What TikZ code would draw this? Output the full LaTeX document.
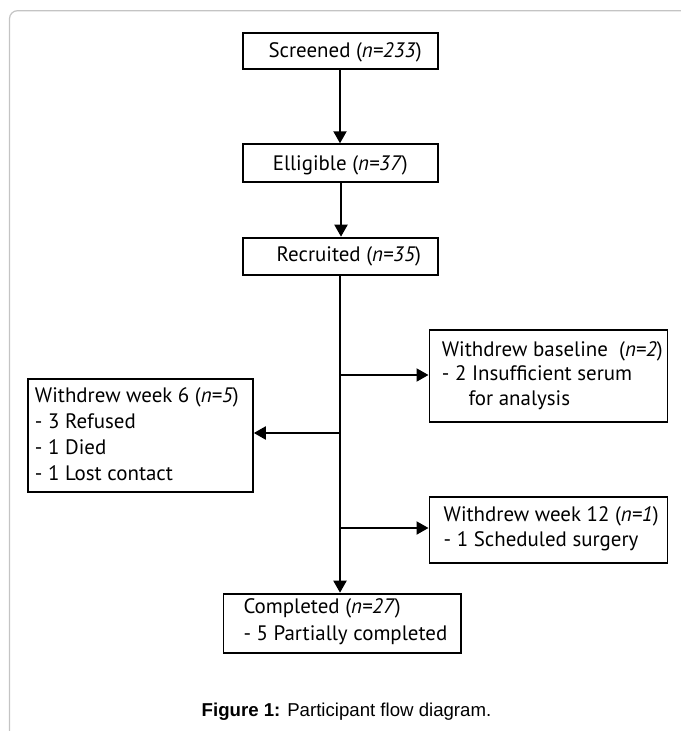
\documentclass[tikz,border=0pt]{standalone}
\usepackage{fontspec}
\setmainfont{PT Sans}
\newfontfamily\capfont{Liberation Sans}
\usetikzlibrary{arrows.meta}
\definecolor{framegray}{RGB}{196,196,196}
\tikzset{
  txt/.style={anchor=base west, inner sep=0pt, font=\fontsize{21}{25}\selectfont},
  flow/.style={line width=2bp, -{Triangle[length=12bp,width=13bp]}},
  boxst/.style={draw, line width=1.8bp, inner sep=0pt, anchor=north west}
}
\begin{document}
\begin{tikzpicture}[x=1bp,y=-1bp]
\useasboundingbox (0,0) rectangle (681,731);
% outer frame
\draw[framegray, line width=1.2bp, rounded corners=8bp] (9.5,740) -- (9.5,10.7) -- (690,10.7);

% boxes
\node[boxst, minimum width=195bp, minimum height=36.5bp] (scr) at (242,31.8) {};
\node[boxst, minimum width=195bp, minimum height=37.4bp] (eli) at (242,143.3) {};
\node[boxst, minimum width=195bp, minimum height=37.3bp] (rec) at (242,236.7) {};
\node[boxst, minimum width=238bp, minimum height=92bp] (base) at (428.5,328.8) {};
\node[boxst, minimum width=225bp, minimum height=113bp] (wk6) at (27,377.7) {};
\node[boxst, minimum width=238bp, minimum height=65.7bp] (wk12) at (428.5,496) {};
\node[boxst, minimum width=237.4bp, minimum height=59.6bp] (comp) at (222.6,592.7) {};

% texts
\node[txt] (tscr) at (268.3,57.3) {Screened (\textit{n=233})};
\node[txt] (teli) at (272.6,170) {Elligible (\textit{n=37})};
\node[txt] (trec) at (276.5,261.7) {Recruited (\textit{n=35})};

\node[txt] (tb1) at (441.7,356) {Withdrew baseline\ \ (\textit{n=2})};
\node[txt] (tb2) at (441.7,380.8) {- 2 Insufficient serum};
\node[txt] (tb3) at (468.3,405.5) {for analysis};

\node[txt] (t61) at (34.8,402.7) {Withdrew week 6 (\textit{n=5})};
\node[txt] (t62) at (34.8,428.3) {- 3 Refused};
\node[txt] (t63) at (34.8,454) {- 1 Died};
\node[txt] (t64) at (34.8,480) {- 1 Lost contact};

\node[txt] (t121) at (443.5,521.7) {Withdrew week 12 (\textit{n=1})};
\node[txt] (t122) at (443.5,546.7) {- 1 Scheduled surgery};

\node[txt] (tc1) at (243.3,613.3) {Completed (\textit{n=27})};
\node[txt] (tc2) at (243.3,640) {- 5 Partially completed};

\node[anchor=base, inner sep=0pt, font=\capfont\fontsize{18.7}{22}\selectfont] (cap) at (346.5,716.7)
  {\textbf{Figure 1:} Participant flow diagram.};

% connectors
\coordinate (j1) at (340,375);
\coordinate (j2) at (340,433);
\coordinate (j3) at (340,528);
\draw[flow] (scr.south -| 340,0) -- (eli.north -| 340,0);
\draw[flow] (eli.south -| 341,0) -- (rec.north -| 341,0);
\draw[flow] (rec.south -| 340,0) -- (comp.north -| 340,0);
\draw[flow] (j1) -- (j1 -| base.west);
\draw[flow] (j2) -- (j2 -| wk6.east);
\draw[flow] (j3) -- (j3 -| wk12.west);
\end{tikzpicture}
\end{document}
